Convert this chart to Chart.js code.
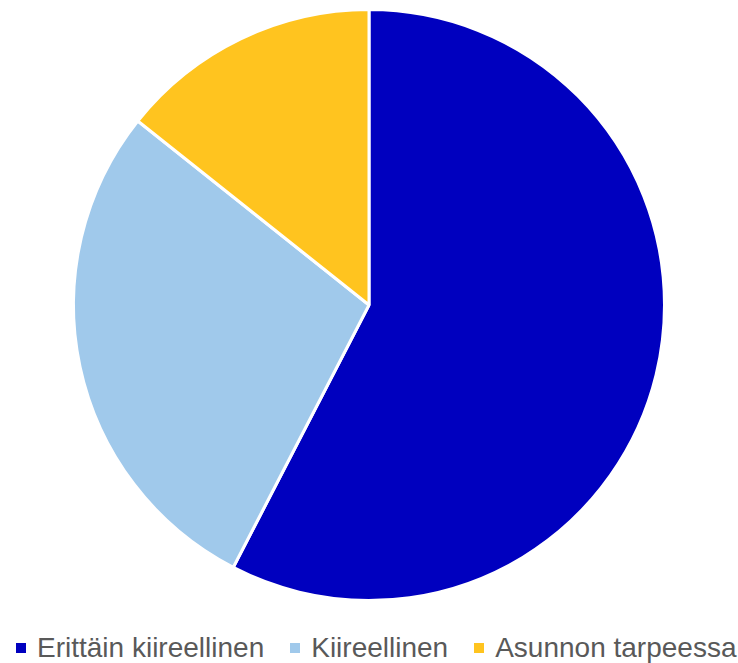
<!DOCTYPE html>
<html lang="fi">
<head>
    <meta charset="UTF-8">
    <title>Kiireellisyys</title>
    <script src="https://cdn.jsdelivr.net/npm/chart.js"></script>
    <style>
        body {
            margin: 0;
            background: #fff;
            font-family: "Liberation Sans", Arial, sans-serif;
        }

        .wrap {
            position: relative;
            width: 738px;
            height: 663px;
        }

        #legend {
            position: absolute;
            left: 16px;
            top: 632px;
            height: 32px;
            display: flex;
            align-items: center;
            font-size: 28px;
            color: #595959;
            white-space: nowrap;
        }

        #legend .item {
            display: flex;
            align-items: center;
            margin-right: 26px;
        }

        #legend .box {
            width: 10px;
            height: 10px;
            margin-right: 11px;
        }
    </style>
</head>
<body>
    <div class="wrap">
        <canvas id="pie" width="738" height="610"></canvas>
        <div id="legend"></div>
    </div>

    <script>
        // data (share of applicants, %)
        const categories = ['Erittäin kiireellinen', 'Kiireellinen', 'Asunnon tarpeessa'];
        const values = [57.6, 28.1, 14.3];
        const colors = ['#0000BF', '#A0C9EB', '#FFC41F'];

        const ctx = document.getElementById('pie').getContext('2d');
        const chart = new Chart(ctx, {
            type: 'pie',
            data: {
                labels: categories,
                datasets: [{
                    data: values,
                    backgroundColor: colors,
                    borderColor: '#ffffff',
                    borderWidth: 3
                }]
            },
            options: {
                responsive: false,
                animation: false,
                layout: {
                    padding: { top: 8, bottom: 8 }
                },
                plugins: {
                    legend: { display: false },
                    tooltip: { enabled: false }
                }
            }
        });

        // legend below the chart
        const legend = document.getElementById('legend');
        chart.data.labels.forEach((label, i) => {
            const item = document.createElement('div');
            item.className = 'item';
            const box = document.createElement('span');
            box.className = 'box';
            box.style.background = colors[i];
            item.appendChild(box);
            item.appendChild(document.createTextNode(label));
            legend.appendChild(item);
        });
    </script>
</body>
</html>
